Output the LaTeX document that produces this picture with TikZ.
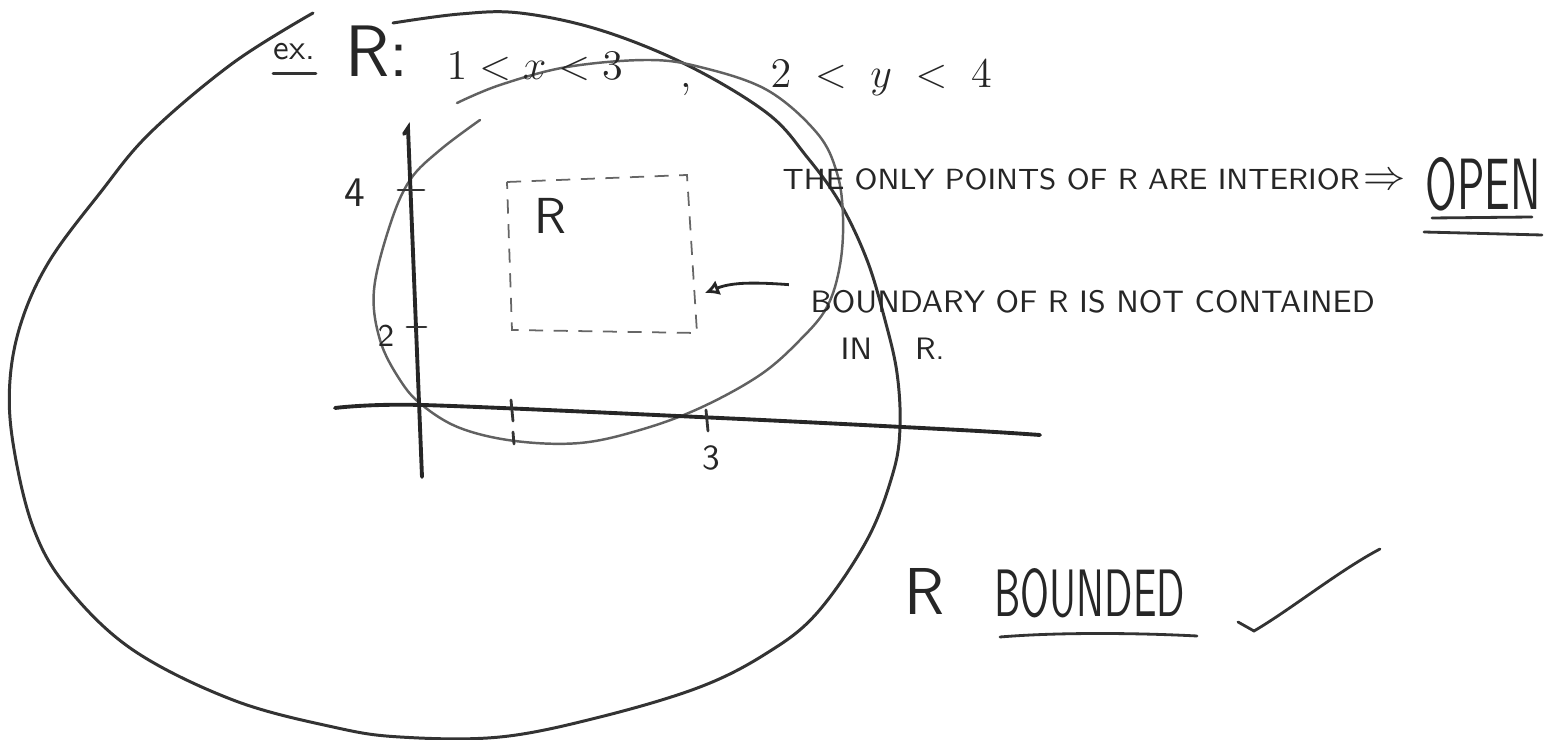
\documentclass[tikz,border=0pt]{standalone}
\usepackage{amsmath, amssymb}
\usepackage{graphicx}
\usepackage{tikz}
\usetikzlibrary{arrows.meta,positioning,calc}

\begin{document}
\begin{tikzpicture}[x=0.01cm, y=-0.01cm,
    hand/.style={font=\sffamily, inner sep=0pt, text=black!85},
    bigpen/.style={line width=0.85pt, draw=black!80, line cap=round, line join=round},
    pen/.style={line width=0.7pt, draw=black!62, line cap=round, line join=round},
    axis/.style={line width=1.1pt, draw=black!85, line cap=round},
    tick/.style={line width=0.8pt, draw=black!80, line cap=round},
    dashrect/.style={line width=0.5pt, draw=black!60, dash pattern=on 4pt off 3pt},
    arr/.style={line width=0.8pt, draw=black!85, {Latex[open,length=4pt,width=4.5pt]}-}]
    \useasboundingbox (0,0) rectangle (1544,740);

    % big bounding curve (left open near the title)
    \draw[bigpen] plot[smooth, tension=0.6] coordinates {
        (393,23) (460,14) (520,13) (600,30) (687,65) (767,113) (807,157)
        (840,203) (867,260) (885,320) (897,373) (900,427) (893,473) (867,540)
        (817,613) (767,653) (700,687) (600,717) (500,737) (400,737) (333,727)
        (233,700) (133,650) (67,587) (33,527) (13,443) (10,380) (22,320)
        (50,260) (100,193) (150,133) (233,63) (313,13)};

    % ellipse round the region
    \draw[pen] plot[smooth, tension=0.6] coordinates {
        (480,120) (440,150) (410,180) (390,225) (374,290) (380,340) (400,380)
        (422,405) (460,428) (515,441) (580,443) (640,430) (700,408) (760,375)
        (800,340) (827,307) (840,265) (843,217) (837,173) (817,133) (767,90)
        (700,67) (647,60) (567,67) (500,85) (457,103)};

    % axes
    \draw[axis] plot[smooth] coordinates {(335,408) (422,405) (720,418) (960,430) (1040,435)};
    \draw[axis] (404,134) -- (408,128) -- (422,477);

    % ticks
    \draw[tick] (398,190) -- (424,190);
    \draw[tick] (407,327) -- (426,327);
    \draw[tick] (511,400) -- (513,421);
    \draw[tick] (513,432) -- (514,444);
    \draw[tick] (706,410) -- (708,431);
    \node[hand, font=\sffamily\large] (lblfour) at (355,193) {4};
    \node[hand, font=\sffamily\small] (lbltwo) at (386,336) {2};
    \node[hand] (lblthree) at (711,458) {3};

    % the region R
    \draw[dashrect] (507,182) -- (687,175) -- (697,333) -- (512,330) -- cycle;
    \node[hand, font=\sffamily\Large] (regR) at (550,216) {R};
    \coordinate (rside) at (705,293);

    % title
    \node[hand, anchor=base west] (ex) at (273,60) {ex.};
    \draw[tick] ([yshift=-3.5pt]ex.south west) -- ([yshift=-3.5pt]ex.south east);
    \node[hand, font=\sffamily\huge, anchor=base west] (Rdef) at (345,77) {R:};
    \node[hand, font=\large, anchor=base west] (xrange) at (446,80) {$1<x<3$};
    \node[hand, font=\large, anchor=base west] (comma) at (680,88) {,};
    \node[hand, font=\large, anchor=base west] (yrange) at (770,88) {$2\;<\;y\;<\;4$};

    % open
    \node[hand, font=\sffamily\fontsize{8.3}{10}\selectfont, anchor=base west] (interior) at (782,190)
        {THE ONLY POINTS OF R ARE INTERIOR};
    \node[hand, font=\large] (implies) at (1385,182) {$\Rightarrow$};
    \node[hand, anchor=base west] (open) at (1425,210) {\resizebox{1.15cm}{0.52cm}{OPEN}};
    \draw[tick] (1432,218) -- (1532,217);
    \draw[tick] (1424,232) -- (1542,235);

    % boundary remark
    \node[hand, font=\sffamily\fontsize{8.8}{10}\selectfont, anchor=base west] (boundary) at (810,313)
        {BOUNDARY OF R IS NOT CONTAINED};
    \node[hand, font=\sffamily\fontsize{8.8}{10}\selectfont, anchor=base west] (inR) at (840,360) {IN\hspace{4.3mm}R.};
    \draw[arr] (rside) .. controls +(25,-10) and +(-40,-3) .. ([xshift=-6pt,yshift=5pt]boundary.west);

    % bounded
    \node[hand, anchor=base west] (rb) at (904,615) {\resizebox{0.4cm}{0.46cm}{R}};
    \node[hand, anchor=base west] (bounded) at (994,617) {\resizebox{1.9cm}{0.48cm}{BOUNDED}};
    \draw[tick] (1000,637) .. controls (1060,632) and (1140,633) .. (1197,636);
    \draw[tick] (1238,622) -- (1254,631) .. controls (1290,610) and (1340,570) .. (1380,549);
\end{tikzpicture}
\end{document}
